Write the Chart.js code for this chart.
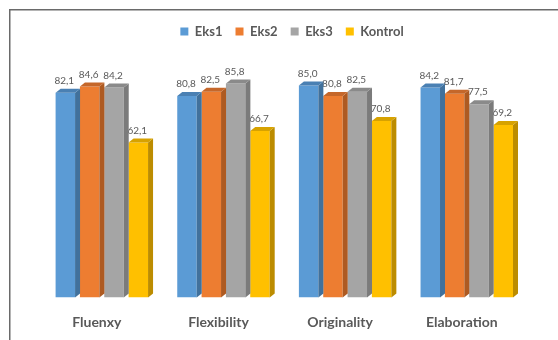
<!DOCTYPE html>
<html>
<head>
<meta charset="utf-8">
<script src="https://cdn.jsdelivr.net/npm/chart.js@4.4.1/dist/chart.umd.min.js"></script>
<style>
  html, body { margin: 0; padding: 0; background: #fff; overflow: hidden; }
  canvas { display: block; }
</style>
</head>
<body>
<canvas id="chart" width="558" height="340" style="width:558px;height:340px"></canvas>
<script>
// Datos del gráfico
const categorias = ["Fluenxy", "Flexibility", "Originality", "Elaboration"];
const series = ["Eks1", "Eks2", "Eks3", "Kontrol"];
const eks1 = [82.1, 80.8, 85.0, 84.2];
const eks2 = [84.6, 82.5, 80.8, 81.7];
const eks3 = [84.2, 85.8, 82.5, 77.5];
const kontrol = [62.1, 66.7, 70.8, 69.2];

// Colores: cara frontal, lateral y superior
const frente = ["#5B9BD5", "#ED7D31", "#A5A5A5", "#FFC000"];
const lateral = ["#41719C", "#AE5A21", "#7B7B7B", "#BC8C00"];
const superior = ["#4A80B3", "#C5672A", "#8A8A8A", "#D7A200"];

const DX = 5, DY = 4;
const gris = "#595959";
const fmt = (v) => v.toFixed(1).replace(".", ",");

// Plugin: marco, etiquetas y efecto 3D
const barras3d = {
  id: "barras3d",
  beforeDraw(chart) {
    const ctx = chart.ctx;
    ctx.save();
    ctx.fillStyle = "#fff";
    ctx.fillRect(0, 0, chart.width, chart.height);
    ctx.strokeStyle = "#6a6a6a";
    ctx.lineWidth = 1.5;
    ctx.beginPath();
    ctx.moveTo(9.75, chart.height);
    ctx.lineTo(9.75, 9.75);
    ctx.lineTo(chart.width, 9.75);
    ctx.stroke();
    ctx.restore();
  },
  beforeDatasetsDraw(chart) {
    // etiquetas antes de las barras (quedan parcialmente tapadas, como en Excel)
    const ctx = chart.ctx;
    ctx.save();
    ctx.font = "10px Lato";
    ctx.fillStyle = gris;
    ctx.textAlign = "center";
    ctx.textBaseline = "middle";
    chart.data.datasets.forEach((ds, i) => {
      chart.getDatasetMeta(i).data.forEach((bar, j) => {
        const { x, y } = bar.getProps(["x", "y"], true);
        ctx.fillText(fmt(ds.data[j]), x - 1, y - 12);
      });
    });
    ctx.restore();
  },
  afterDatasetDraw(chart, args) {
    const ctx = chart.ctx;
    const i = args.index;
    ctx.save();
    args.meta.data.forEach((bar) => {
      const { x, y, base, width } = bar.getProps(["x", "y", "base", "width"], true);
      const l = x - width / 2, r = x + width / 2;
      ctx.fillStyle = lateral[i];
      ctx.beginPath();
      ctx.moveTo(r, y);
      ctx.lineTo(r + DX, y - DY);
      ctx.lineTo(r + DX, base - DY);
      ctx.lineTo(r, base);
      ctx.closePath();
      ctx.fill();
      ctx.fillStyle = superior[i];
      ctx.beginPath();
      ctx.moveTo(l, y);
      ctx.lineTo(l + DX, y - DY);
      ctx.lineTo(r + DX, y - DY);
      ctx.lineTo(r, y);
      ctx.closePath();
      ctx.fill();
    });
    ctx.restore();
  },
};

const valores = [eks1, eks2, eks3, kontrol];

new Chart(document.getElementById("chart"), {
  type: "bar",
  data: {
    labels: categorias,
    datasets: series.map((nombre, i) => ({
      label: nombre,
      data: valores[i],
      backgroundColor: frente[i],
      borderWidth: 0,
      categoryPercentage: 0.8,
      barPercentage: 0.8,
    })),
  },
  options: {
    responsive: false,
    animation: false,
    events: [],
    layout: { padding: { top: 12, left: 41, right: 15, bottom: 9.6 } },
    plugins: {
      tooltip: { enabled: false },
      legend: {
        position: "top",
        labels: {
          boxWidth: 8,
          boxHeight: 8,
          padding: 13,
          color: gris,
          font: { family: "Lato", size: 13, weight: "bold" },
        },
      },
    },
    scales: {
      x: {
        grid: { display: false, drawTicks: false },
        border: { display: false },
        ticks: {
          color: gris,
          padding: 16,
          labelOffset: -5,
          font: { family: "Lato", size: 14, weight: "bold" },
        },
        afterFit: (s) => { s.height = 32.8; },
      },
      y: {
        position: "right",
        min: 0,
        max: 100,
        grid: { display: false, drawTicks: false },
        border: { display: false },
        ticks: { display: false },
        afterFit: (s) => { s.width = 15.4; },
      },
    },
  },
  plugins: [barras3d],
});
</script>
</body>
</html>
